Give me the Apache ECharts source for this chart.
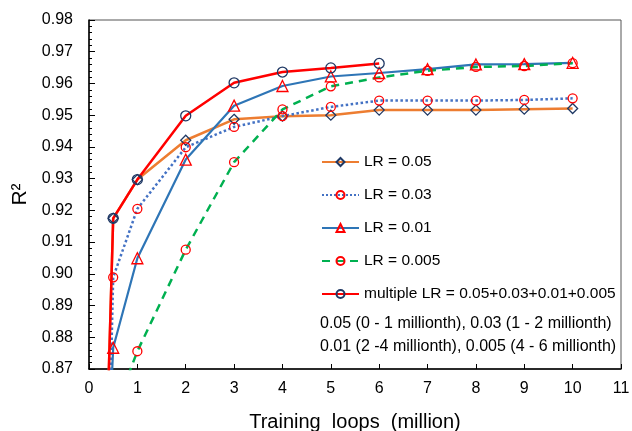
<!DOCTYPE html>
<html><head><meta charset="utf-8">
<script src="https://cdn.jsdelivr.net/npm/echarts@6/dist/echarts.min.js"></script>
<style>html,body{margin:0;padding:0;background:#fff}#c{width:632px;height:431px}</style>
</head><body><div id="c"></div>
<script>
const xs = [0.4, 0.5, 1, 2, 3, 4, 5, 6, 7, 8, 9, 10];
const lr005 = [0.864, 0.9175, 0.9297, 0.9421, 0.9487, 0.9497, 0.9500, 0.9516, 0.9516, 0.9516, 0.9519, 0.9521];
const lr003 = [0.835, 0.8989, 0.9205, 0.9399, 0.9463, 0.9497, 0.9526, 0.9546, 0.9546, 0.9546, 0.9548, 0.9553];
const lr001 = [0.842, 0.8767, 0.9049, 0.9360, 0.9530, 0.9592, 0.9622, 0.9633, 0.9645, 0.9660, 0.9661, 0.9665];
const lr0005 = [null, 0.8556, 0.8756, 0.9076, 0.9352, 0.9518, 0.9591, 0.9619, 0.9640, 0.9652, 0.9655, 0.9664];
const multi = [0.864, 0.9175, 0.9297, 0.9498, 0.9602, 0.9636, 0.9649, 0.9663, null, null, null, null];
const seriesNames = ['LR = 0.05', 'LR = 0.03', 'LR = 0.01', 'LR = 0.005', 'multiple LR = 0.05+0.03+0.01+0.005'];
const noteLines = ['0.05 (0 - 1 millionth), 0.03 (1 - 2 millionth)', '0.01 (2 -4 millionth), 0.005 (4 - 6 millionth)'];

const pairs = arr => xs.map((x, i) => arr[i] == null ? null : [x, arr[i]]).filter(p => p);
const F = 'Liberation Sans, Arial, sans-serif';
const chart = echarts.init(document.getElementById('c'));
function mk(name, data, lineColor, lineType, width, symbol, symColor, symSize) {
  return {
    name, type: 'line', data: pairs(data), clip: true,
    symbol, symbolSize: symSize, showAllSymbol: true,
    lineStyle: { color: lineColor, width, type: lineType },
    itemStyle: { color: 'rgba(255,255,255,0)', borderColor: symColor, borderWidth: 1.3 },
    emphasis: { disabled: true }, animation: false
  };
}
chart.setOption({
  animation: false,
  grid: { left: 89, right: 11, top: 20, bottom: 62, show: true, borderColor: '#555', borderWidth: 1, containLabel: false, outerBoundsMode: 'none' },
  xAxis: {
    type: 'value', min: 0, max: 11, interval: 1,
    name: 'Training  loops  (million)', nameLocation: 'middle', nameGap: 43,
    nameTextStyle: { fontFamily: F, fontSize: 20, color: '#000' },
    axisLine: { lineStyle: { color: '#000', width: 1.5 } },
    axisTick: { inside: true, length: 5, lineStyle: { color: '#000' } },
    axisLabel: { fontFamily: F, fontSize: 16, color: '#000', margin: 12 },
    splitLine: { show: false }
  },
  yAxis: {
    type: 'value', min: 0.87, max: 0.98, interval: 0.01,
    name: 'R²', nameLocation: 'middle', nameGap: 47, nameRotate: 90,
    nameTextStyle: { fontFamily: F, fontSize: 21, color: '#000' },
    axisLine: { lineStyle: { color: '#000', width: 1.5 } },
    axisTick: { inside: true, length: 6, lineStyle: { color: '#000' } },
    minorTick: { show: true, splitNumber: 5, length: 3, lineStyle: { color: '#000' } },
    axisLabel: { fontFamily: F, fontSize: 16, color: '#000', margin: 16, formatter: v => v.toFixed(2) },
    splitLine: { show: false }
  },
  legend: {
    orient: 'vertical', left: 316, top: 149, itemWidth: 37, itemHeight: 10, itemGap: 17,
    data: seriesNames,
    textStyle: { fontFamily: F, fontSize: 15.5, color: '#000', lineHeight: 10 }
  },
  graphic: [
    { type: 'text', left: 320, top: 316, style: { text: noteLines[0], font: '16px ' + F, fill: '#000' } },
    { type: 'text', left: 320, top: 339, style: { text: noteLines[1], font: '16px ' + F, fill: '#000' } }
  ],
  series: [
    mk(seriesNames[0], lr005, '#ED7D31', 'solid', 2.5, 'diamond', '#1F3864', 10),
    mk(seriesNames[1], lr003, '#4472C4', 'dotted', 2.5, 'circle', '#FF0000', 9),
    mk(seriesNames[2], lr001, '#2E75B6', 'solid', 2.2, 'triangle', '#FF0000', 11),
    mk(seriesNames[3], lr0005, '#00B050', [8, 6], 2.5, 'circle', '#FF0000', 9),
    mk(seriesNames[4], multi, '#FF0000', 'solid', 2.5, 'circle', '#1F3864', 10)
  ]
});
</script></body></html>
